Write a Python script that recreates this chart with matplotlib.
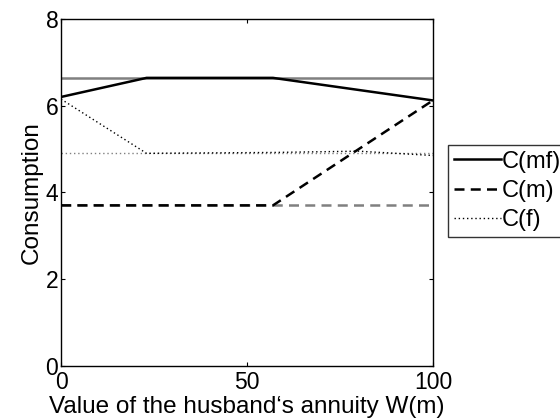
import matplotlib
matplotlib.use("Agg")
import matplotlib.pyplot as plt

plt.rcParams['font.family'] = ['Liberation Sans', 'DejaVu Sans']

# Значения по оси x (аннуитет мужа)
w = [0, 23, 57, 100]
c_mf = [6.2, 6.64, 6.64, 6.12]
c_m = [3.7, 3.7, 3.7, 6.12]

w_f = [0, 23, 57, 80, 100]
c_f = [6.15, 4.9, 4.92, 4.95, 4.85]

# Серые опорные уровни
w_ref = [0, 100]
ref_mf = [6.64, 6.64]
ref_m = [3.7, 3.7]
ref_f = [4.9, 4.9]

fig = plt.figure(figsize=(5.6, 4.2), dpi=100)
ax = fig.add_axes([0.109, 0.129, 0.664, 0.826])

gray = '#808080'
ax.plot(w_ref, ref_mf, color=gray, lw=1.8)
ax.plot(w_ref, ref_m, color=gray, lw=1.8, ls=(0, (4, 2.5)))
ax.plot(w_ref, ref_f, color=gray, lw=1.0, ls=(0, (1, 2)))

l1, = ax.plot(w, c_mf, color='black', lw=1.8, label='C(mf)')
l2, = ax.plot(w, c_m, color='black', lw=1.8, ls=(0, (4, 2.5)), label='C(m)')
l3, = ax.plot(w_f, c_f, color='black', lw=1.0, ls=(0, (1, 2)), label='C(f)')

ax.set_xlim(0, 100)
ax.set_ylim(0, 8)
ax.set_xticks([0, 50, 100])
ax.set_yticks([0, 2, 4, 6, 8])
ax.tick_params(direction='in', length=3, labelsize=16.5, top=True, right=True)
ax.tick_params(axis='x', pad=4)
ax.tick_params(axis='y', pad=2)
for s in ax.spines.values():
    s.set_linewidth(1.0)

ax.set_xlabel('Value of the husband\u2018s annuity W(m)', fontsize=17.5, labelpad=1)
ax.set_ylabel('Consumption', fontsize=17.5, labelpad=2)

leg = ax.legend(handles=[l1, l2, l3], loc='upper left', bbox_to_anchor=(1.04, 0.637),
                fontsize=17, frameon=True, fancybox=False, edgecolor='black',
                handlelength=2.0, handletextpad=0.05, borderpad=0.25, labelspacing=0.3,
                borderaxespad=0)
leg.get_frame().set_linewidth(1.0)

fig.savefig('out.png', dpi=100)
